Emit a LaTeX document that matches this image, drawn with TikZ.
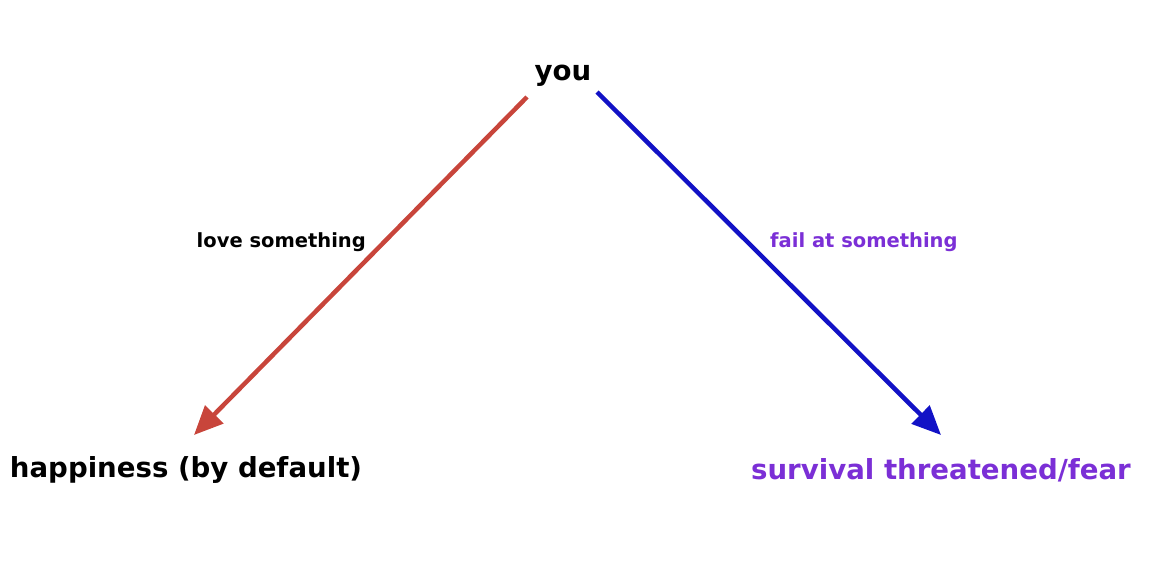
\documentclass[tikz,border=0pt]{standalone}
\usepackage{fontspec}
\setmainfont{DejaVu Sans}
\usetikzlibrary{arrows.meta}
\definecolor{redarrow}{HTML}{C8453B}
\definecolor{bluearrow}{HTML}{1212C6}
\definecolor{purpletext}{HTML}{7B2FD6}
\begin{document}
\begin{tikzpicture}[x=1pt,y=-1pt,
  big/.style={font=\fontsize{27.6}{32}\selectfont\bfseries, inner sep=0pt},
  small/.style={font=\fontsize{19.5}{23}\selectfont\bfseries, inner sep=0pt},
  arr/.style={line width=4.5pt, -{Triangle[length=29pt,width=25pt]}}]
\useasboundingbox (0,0) rectangle (1166,568);
\node[big] (you) at (563,76) {you};
\node[big] (happy) at (186,470) {happiness (by default)};
\node[big, text=purpletext] (fear) at (941,470) {survival threatened/fear};
\coordinate (rs) at (527,97);
\coordinate (re) at (194,435);
\coordinate (bs) at (597,92);
\coordinate (be) at (941,435);
\draw[arr, redarrow] (rs) -- (re);
\draw[arr, bluearrow] (bs) -- (be);
\node[small, anchor=east] (love) at (366,242) {love something};
\node[small, anchor=west, text=purpletext] (fail) at (770,242) {fail at something};
\end{tikzpicture}
\end{document}
